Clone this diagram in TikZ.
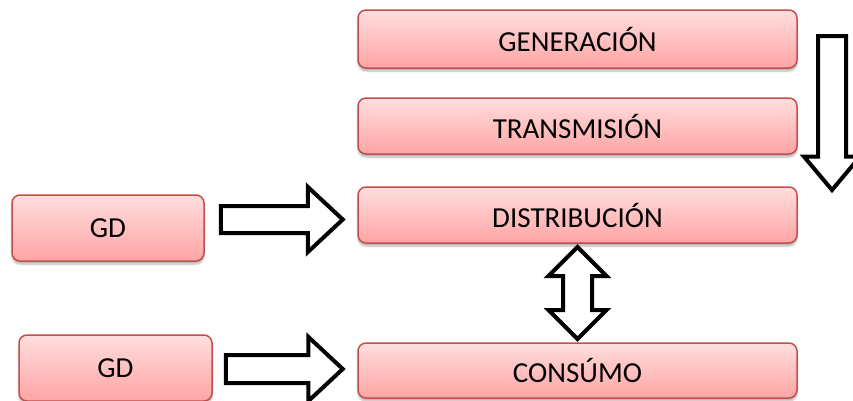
\documentclass[tikz,border=0pt]{standalone}
\usepackage{fontspec}
\setmainfont{Carlito}
\usetikzlibrary{calc,shapes.arrows,shadows.blur}

\definecolor{boxtop}{RGB}{255,222,222}
\definecolor{boxbottom}{RGB}{255,164,164}
\definecolor{boxline}{RGB}{192,80,77}

\begin{document}
\begin{tikzpicture}[x=1pt,y=-1pt,
  stage/.style={draw=boxline,line width=1.5pt,rounded corners=8pt,
    top color=boxtop,bottom color=boxbottom,
    blur shadow={shadow xshift=0pt,shadow yshift=-3pt,shadow blur steps=6,shadow opacity=30},
    minimum width=439pt,minimum height=56pt,inner sep=0pt,
    font=\fontsize{29}{34}\selectfont},
  gdbox/.style={stage,minimum width=193pt,minimum height=66pt},
  blockarrow/.style={single arrow,draw=black,line width=4pt,fill=white,
    single arrow tip angle=86},
  dblarrow/.style={double arrow,draw=black,line width=4pt,fill=white}]
\useasboundingbox (0,0) rectangle (853,400);
% stages
\node[stage,minimum height=58pt] (gen) at (577.5,39) {GENERACIÓN};
\node[stage] (trans) at (577.5,126) {TRANSMISIÓN};
\node[stage] (dist) at (577.5,215) {DISTRIBUCIÓN};
\node[stage,minimum height=55pt] (cons) at (577.5,370.5) {CONSÚMO};
% generacion distribuida
\node[gdbox,minimum width=192pt] (gd1) at (108,228) {GD};
\node[gdbox] (gd2) at (115.5,368) {GD};
% flechas
\node[blockarrow,shape border rotate=270,anchor=tail,minimum height=154pt,inner sep=12pt,
  single arrow head extend=14pt,single arrow tip angle=80] (flow) at (832,34) {};
\node[blockarrow,anchor=tail,minimum height=122pt,inner sep=11.5pt,
  single arrow head extend=19pt] (gdin1) at ($(gd1.east)+(14,-8.5)$) {};
\node[blockarrow,anchor=tail,minimum height=117pt,inner sep=12pt,
  single arrow head extend=18pt] (gdin2) at ($(gd2.east)+(11,1)$) {};
\node[dblarrow,shape border rotate=90,minimum height=92pt,inner sep=12.5pt,
  double arrow head extend=14.5pt] (link) at ($(dist.south)!0.5!(cons.north)$) {};
\end{tikzpicture}
\end{document}
